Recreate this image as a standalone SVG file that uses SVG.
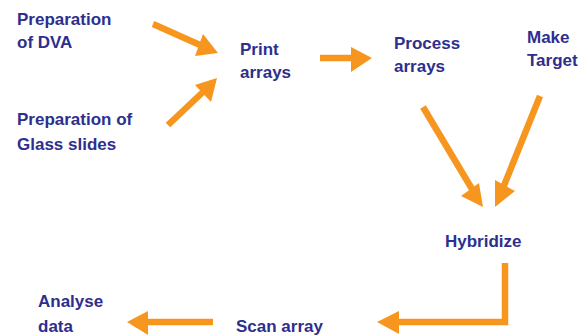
<svg xmlns="http://www.w3.org/2000/svg" width="581" height="336" viewBox="0 0 581 336">
<style>
text{font-family:"Liberation Sans",Arial,sans-serif;font-weight:bold;font-size:17px;fill:#2e2e8e}
.ln{stroke:#f7961e;stroke-width:6.5;fill:none;stroke-linecap:butt;stroke-linejoin:miter}
.hd{fill:#f7961e}
</style>
<rect width="581" height="336" fill="#fff"/>
<g id="prep-dna"><text x="17" y="25">Preparation</text><text x="17" y="48">of DVA</text></g>
<g id="prep-glass"><text x="17" y="125">Preparation of</text><text x="17" y="150">Glass slides</text></g>
<g id="print"><text x="240" y="55">Print</text><text x="240" y="78">arrays</text></g>
<g id="process"><text x="394" y="49">Process</text><text x="394" y="72">arrays</text></g>
<g id="target"><text x="527" y="43">Make</text><text x="527" y="66">Target</text></g>
<g id="hybridize"><text x="445" y="247">Hybridize</text></g>
<g id="scan"><text x="236" y="332">Scan array</text></g>
<g id="analyse"><text x="38" y="307">Analyse</text><text x="38" y="332">data</text></g>
<g id="connectors">
<line class="ln" x1="153" y1="24" x2="200" y2="45"/>
<polygon class="hd" points="218,53 195,56 203,34"/>
<line class="ln" x1="168" y1="125" x2="203" y2="92"/>
<polygon class="hd" points="217,78 195,85 211,102"/>
<line class="ln" x1="320" y1="58" x2="353" y2="58"/>
<polygon class="hd" points="372,58 351,47 351,72"/>
<line class="ln" x1="423" y1="107" x2="472" y2="189"/>
<polygon class="hd" points="483,207 461,196 479,183"/>
<line class="ln" x1="540" y1="96" x2="503" y2="188"/>
<polygon class="hd" points="495,207 495,180 515,191"/>
<polyline class="ln" points="505,263 505,322 397,322"/>
<polygon class="hd" points="377,322 399,311 399,334"/>
<line class="ln" x1="213" y1="322" x2="146" y2="322"/>
<polygon class="hd" points="127,322 148,311 148,335"/>
</g>
</svg>
